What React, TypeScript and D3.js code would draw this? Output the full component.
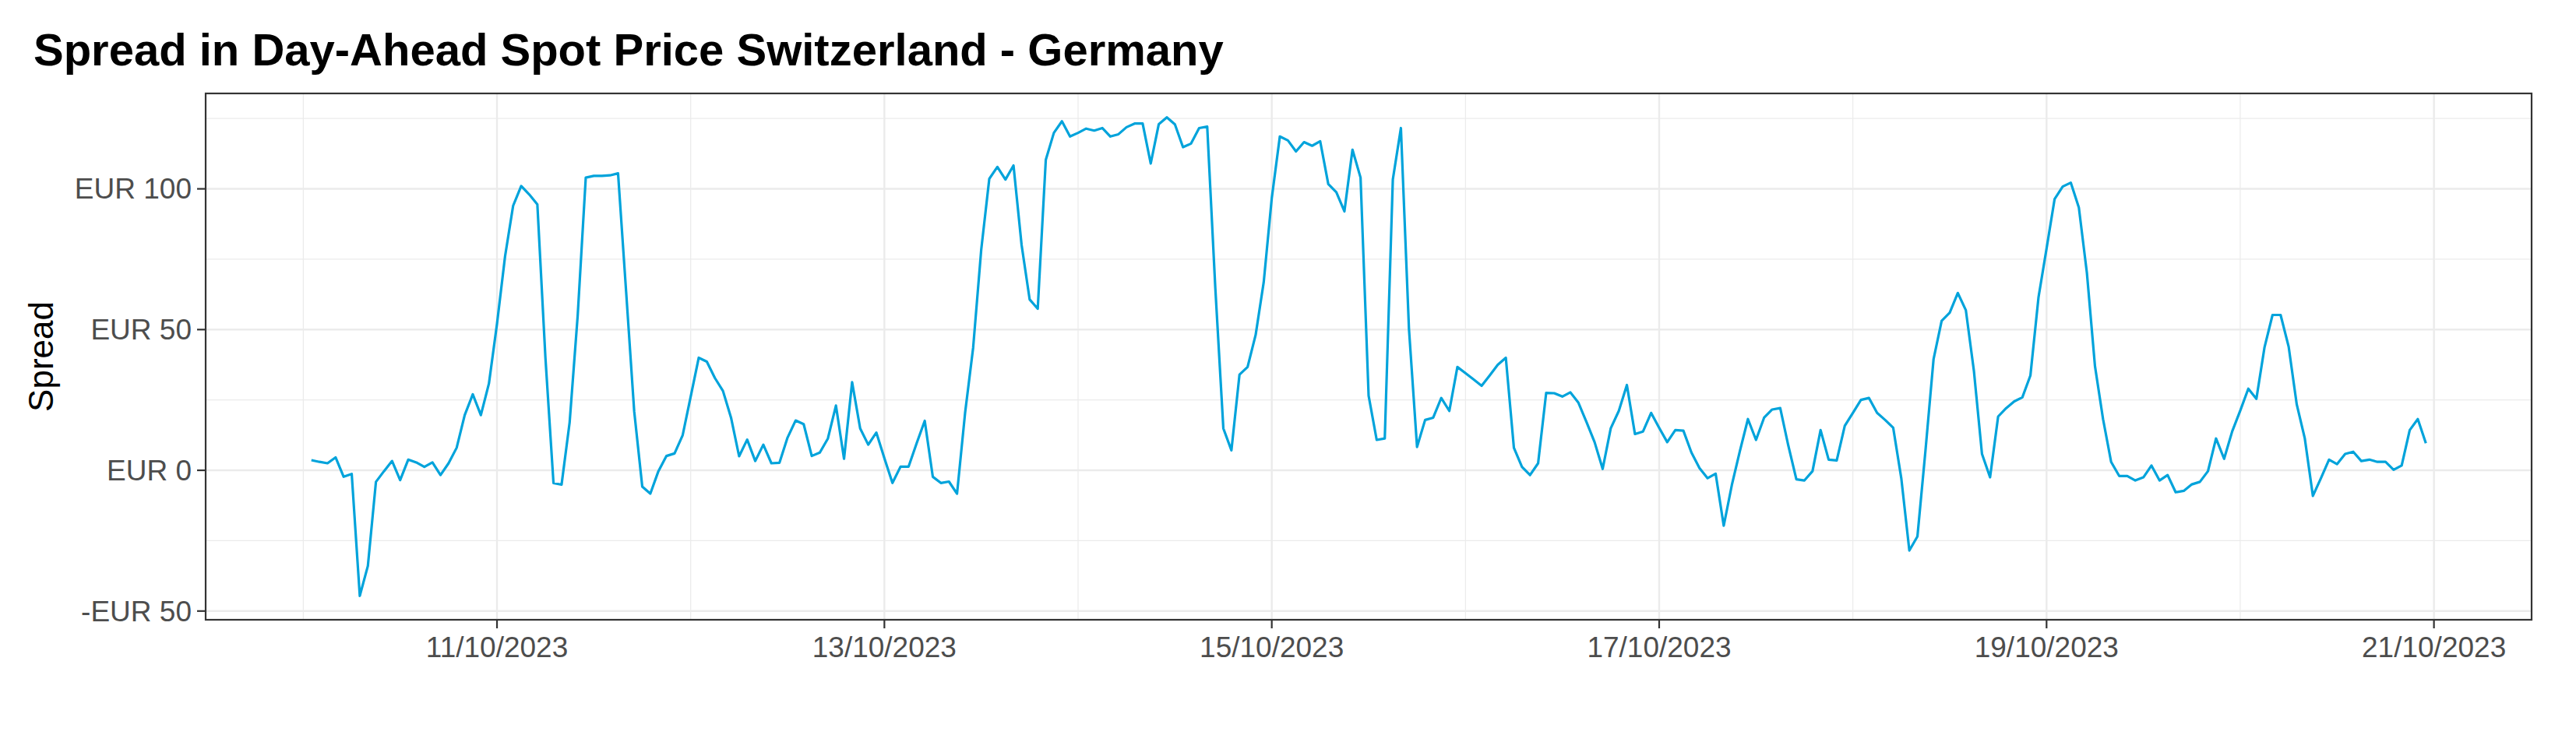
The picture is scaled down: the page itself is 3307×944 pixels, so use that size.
import React from "react";
import * as d3 from "d3";

const startHourUTC = Date.UTC(2023, 9, 10, 1);
const spread: number[] = [
  3.6,3.0,2.5,4.6,-2.3,-1.3,-44.6,-34,-4.1,-0.3,3.3,-3.5,3.8,2.8,1.2,2.8,-1.7,2.5,8,19.6,27,19.6,30.8,52,76,94,101,98,94.5,40,-4.5,-5.1,17,55,104,104.6,104.6,104.8,105.5,
  63.5,21,-5.8,-8.3,-0.3,5.1,6,12.4,26.2,40,38.6,32.8,28.2,18.7,5,10.9,3.3,9.1,2.5,2.7,11.6,17.7,16.4,5.1,6.3,11.3,23,4.1,31.3,14.9,9.1,13.4,4.3,-4.5,1.3,1.3,9.6,17.6,-2.3,-4.5,-4,-8.3,20.4,43.6,78.4,103.6,107.8,103.3,108.3,80.1,60.7,57.4,110.3,119.9,124,118.6,119.9,121.4,120.7,121.6,118.6,119.4,121.9,
  123.2,123.2,109,123,125.4,122.9,114.8,116.1,121.6,122.1,65,14.9,7.1,34,36.7,48.1,66.8,96.7,118.6,117.2,113.3,116.6,115.3,116.9,101.7,98.8,92,113.9,104,26.5,10.8,11.3,103.3,121.6,50.2,8.3,17.9,18.7,25.7,21.1,36.7,34.5,32.3,30,33.7,37.5,40,8,1.2,-1.7,2.5,27.5,27.4,26.2,27.7,24,17.1,10,0.5,14.9,21.1,30.3,
  12.9,13.8,20.4,15.1,10,14.3,14.1,6.3,0.8,-2.8,-1.2,-19.7,-5.3,6.8,18.2,10.8,18.7,21.6,22.1,8.8,-3.2,-3.6,-0.3,14.3,3.8,3.5,15.8,20.4,25,25.7,20.4,17.9,15.1,-2.8,-28.5,-23.5,7.1,39.5,53.1,56,63,56.9,35.3,5.8,-2.5,19.1,22.1,24.5,25.9,33.7,61.4,78.8,96.4,100.8,102.2,93.4,70.1,37,18.2,3,-2,-2,
  -3.6,-2.5,1.7,-3.6,-1.7,-7.8,-7.3,-5,-4.1,-0.3,11.3,4.1,13.8,21.2,29,25.4,43.6,55.2,55.2,43.9,23.4,11.3,-9.1,-2.8,3.8,2.2,5.8,6.6,3.3,3.8,3,3,0.2,1.7,14.3,18.2,9.6,
];
const yMajor = [-50, 0, 50, 100];
const yMinor = [-25, 25, 75, 125];
const xMajorDays = [11, 13, 15, 17, 19, 21];
const xMinorDays = [10, 12, 14, 16, 18, 20];
const title = "Spread in Day-Ahead Spot Price Switzerland - Germany";
const yTitle = "Spread";

const W = 3307, H = 944;
const L = 264, R = 3250, T = 120, B = 796;
const FONT = "'Liberation Sans', Arial, Helvetica, sans-serif";

export default function App() {
  const times = spread.map((_, i) => new Date(startHourUTC + i * 3600e3));
  const t0 = +times[0], t1 = +times[times.length - 1];
  const ex = (t1 - t0) * 0.05;
  const x = d3.scaleUtc().domain([t0 - ex, t1 + ex]).range([L, R]);
  const ymin = d3.min(spread)!, ymax = d3.max(spread)!;
  const ey = (ymax - ymin) * 0.05;
  const y = d3.scaleLinear().domain([ymin - ey, ymax + ey]).range([B, T]);
  const line = d3.line<number>().x((_, i) => x(times[i])).y((d) => y(d));
  const day = (d: number) => new Date(Date.UTC(2023, 9, d));
  const fmtY = (v: number) => (v < 0 ? `-EUR ${Math.abs(v)}` : `EUR ${v}`);
  const fmtX = (d: number) => `${d}/10/2023`;
  return (
    <svg width={W} height={H} style={{ position: "absolute", left: 0, top: 0, background: "#fff" }}>
      <rect width={W} height={H} fill="#fff" />
      <text x={43} y={84} fontFamily={FONT} fontWeight="bold" fontSize={58} fill="#000">{title}</text>
      {yMinor.map((v) => <line key={"ym" + v} x1={L} x2={R} y1={y(v)} y2={y(v)} stroke="#EBEBEB" strokeWidth={1.2} />)}
      {xMinorDays.map((d) => <line key={"xm" + d} x1={x(day(d))} x2={x(day(d))} y1={T} y2={B} stroke="#EBEBEB" strokeWidth={1.2} />)}
      {yMajor.map((v) => <line key={"yM" + v} x1={L} x2={R} y1={y(v)} y2={y(v)} stroke="#EBEBEB" strokeWidth={2.4} />)}
      {xMajorDays.map((d) => <line key={"xM" + d} x1={x(day(d))} x2={x(day(d))} y1={T} y2={B} stroke="#EBEBEB" strokeWidth={2.4} />)}
      <path d={line(spread)!} fill="none" stroke="#00A3DB" strokeWidth={3.2} strokeLinejoin="round" />
      <rect x={L} y={T} width={R - L} height={B - T} fill="none" stroke="#333333" strokeWidth={2.2} />
      {yMajor.map((v) => (
        <g key={"yt" + v}>
          <line x1={L - 11} x2={L} y1={y(v)} y2={y(v)} stroke="#333333" strokeWidth={2.2} />
          <text x={L - 18} y={y(v)} dy="0.35em" textAnchor="end" fontFamily={FONT} fontSize={37} fill="#4D4D4D">{fmtY(v)}</text>
        </g>
      ))}
      {xMajorDays.map((d) => (
        <g key={"xt" + d}>
          <line x1={x(day(d))} x2={x(day(d))} y1={B} y2={B + 11} stroke="#333333" strokeWidth={2.2} />
          <text x={x(day(d))} y={B + 48} textAnchor="middle" fontFamily={FONT} fontSize={37} fill="#4D4D4D">{fmtX(d)}</text>
        </g>
      ))}
      <text transform={`translate(68,${(T + B) / 2}) rotate(-90)`} textAnchor="middle" fontFamily={FONT} fontSize={44} fill="#000">{yTitle}</text>
    </svg>
  );
}
